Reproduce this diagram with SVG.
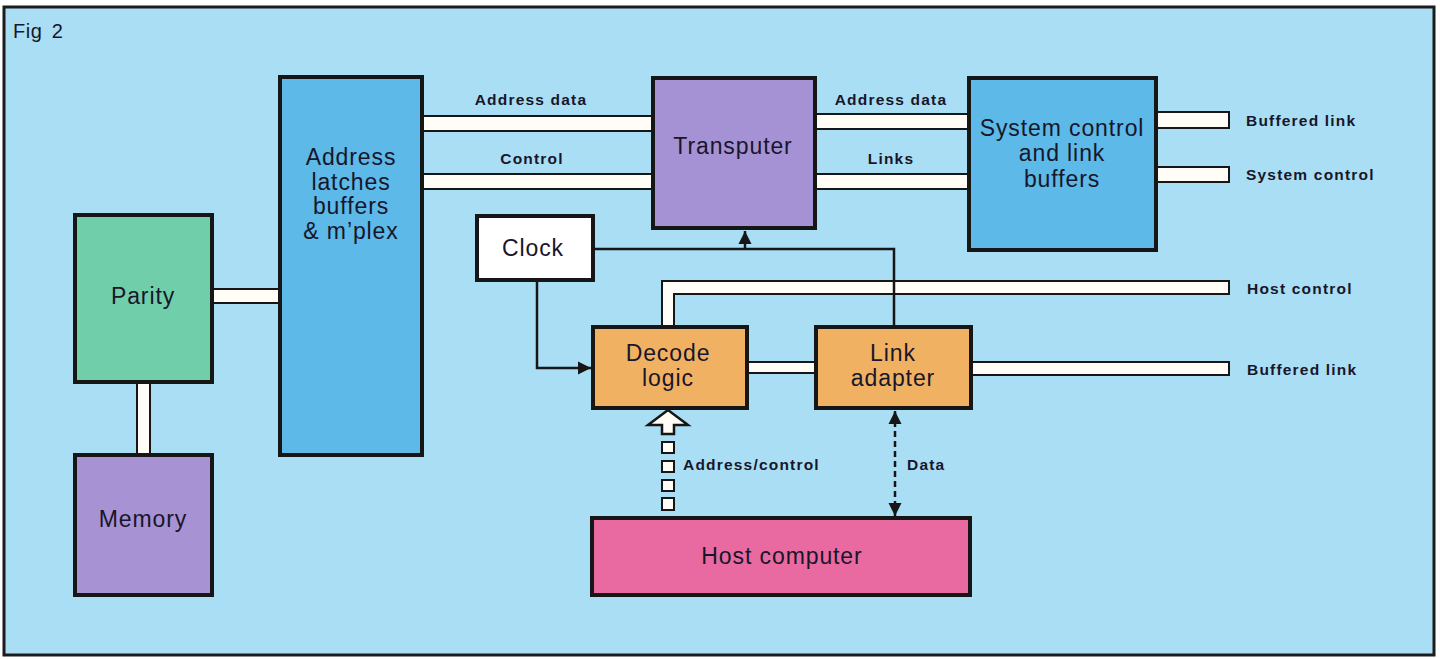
<svg xmlns="http://www.w3.org/2000/svg" width="1440" height="659" viewBox="0 0 1440 659">
  <style>
    .box { stroke: #161616; stroke-width: 4; }
    .bus { fill: #fffdf6; stroke: #161616; stroke-width: 2; }
    .wire { fill: none; stroke: #161616; stroke-width: 2.5; }
    .node-text { font-family: "Liberation Sans", Arial, sans-serif; font-size: 23px; letter-spacing: 0.9px; fill: #18162a; text-anchor: middle; }
    .bus-text { font-family: "Liberation Sans", Arial, sans-serif; font-size: 15.5px; font-weight: bold; letter-spacing: 1.2px; fill: #18162a; }
    .mid { text-anchor: middle; }
  </style>
  <defs>
    <marker id="arrow" viewBox="0 0 10 10" refX="10" refY="5" markerWidth="13" markerHeight="15" markerUnits="userSpaceOnUse" orient="auto-start-reverse">
      <path d="M0,0 L10,5 L0,10 Z" fill="#161616"/>
    </marker>
  </defs>

  <!-- frame -->
  <rect x="4" y="7" width="1430" height="648" fill="#a9def4" stroke="#1c1c1c" stroke-width="3"/>
  <text x="13" y="38" font-family="Liberation Sans, Arial, sans-serif" font-size="20" letter-spacing="0.6" word-spacing="3" fill="#18162a">Fig 2</text>

  <!-- connectors -->
  <g id="connectors">
    <!-- parity to address latches -->
    <rect class="bus" x="208" y="289" width="76" height="14"/>
    <!-- parity to memory -->
    <rect class="bus" x="137" y="378" width="13" height="79"/>
    <!-- address latches to transputer -->
    <rect class="bus" x="418" y="116" width="238" height="15"/>
    <rect class="bus" x="418" y="174" width="238" height="15"/>
    <!-- transputer to system control -->
    <rect class="bus" x="812" y="114" width="160" height="15"/>
    <rect class="bus" x="812" y="174" width="160" height="15"/>
    <!-- system control outputs -->
    <rect class="bus" x="1153" y="112" width="76" height="16"/>
    <rect class="bus" x="1153" y="167" width="76" height="15"/>
    <!-- host control -->
    <path class="bus" d="M662,329 V281 H1229 V294 H674 V329"/>
    <!-- decode to link adapter -->
    <rect class="bus" x="743" y="362" width="77" height="11"/>
    <!-- link adapter buffered link -->
    <rect class="bus" x="968" y="362" width="261" height="13"/>
    <!-- clock lines -->
    <path class="wire" d="M593,249 H894 V329"/>
    <line class="wire" x1="745" y1="249" x2="745" y2="231" marker-end="url(#arrow)"/>
    <path class="wire" d="M537,280 V368 H591" marker-end="url(#arrow)"/>
    <!-- address/control from host -->
    <polygon points="668,410 648,425 662,425 662,434 674,434 674,425 688,425" fill="#fffdf6" stroke="#161616" stroke-width="2.5" stroke-linejoin="miter"/>
    <rect class="bus" x="662" y="442" width="12" height="11"/>
    <rect class="bus" x="662" y="461" width="12" height="11"/>
    <rect class="bus" x="662" y="480" width="12" height="11"/>
    <rect class="bus" x="662" y="498" width="12" height="12"/>
    <!-- data from host -->
    <line class="wire" x1="895" y1="411" x2="895" y2="516" stroke-dasharray="6 4" marker-start="url(#arrow)" marker-end="url(#arrow)"/>
  </g>

  <!-- bus labels -->
  <g id="bus-labels">
    <text class="bus-text mid" x="531" y="105">Address data</text>
    <text class="bus-text mid" x="532" y="164">Control</text>
    <text class="bus-text mid" x="891" y="105">Address data</text>
    <text class="bus-text mid" x="891" y="164">Links</text>
    <text class="bus-text" x="1246" y="126">Buffered link</text>
    <text class="bus-text" x="1246" y="180">System control</text>
    <text class="bus-text" x="1247" y="294">Host control</text>
    <text class="bus-text" x="1247" y="375">Buffered link</text>
    <text class="bus-text" x="683" y="470" letter-spacing="0.6">Address/control</text>
    <text class="bus-text" x="907" y="470">Data</text>
  </g>

  <!-- nodes -->
  <g id="address-latches">
    <rect class="box" x="280" y="77" width="142" height="378" fill="#5cb9e8"/>
    <text class="node-text" x="351" y="165">Address</text>
    <text class="node-text" x="351" y="190">latches</text>
    <text class="node-text" x="351" y="214">buffers</text>
    <text class="node-text" x="351" y="239">&amp; m’plex</text>
  </g>
  <g id="parity">
    <rect class="box" x="75" y="215" width="137" height="167" fill="#70ceaa"/>
    <text class="node-text" x="143" y="304">Parity</text>
  </g>
  <g id="memory">
    <rect class="box" x="75" y="455" width="137" height="140" fill="#a792d3"/>
    <text class="node-text" x="143" y="527">Memory</text>
  </g>
  <g id="transputer">
    <rect class="box" x="653" y="78" width="162" height="150" fill="#a592d5"/>
    <text class="node-text" x="733" y="154">Transputer</text>
  </g>
  <g id="system-control">
    <rect class="box" x="969" y="78" width="187" height="172" fill="#5cb9e8"/>
    <text class="node-text" x="1062" y="136">System control</text>
    <text class="node-text" x="1062" y="161">and link</text>
    <text class="node-text" x="1062" y="187">buffers</text>
  </g>
  <g id="clock">
    <rect class="box" x="477" y="216" width="116" height="64" fill="#ffffff"/>
    <text class="node-text" x="533" y="256">Clock</text>
  </g>
  <g id="decode-logic">
    <rect class="box" x="593" y="327" width="154" height="81" fill="#f0b163"/>
    <text class="node-text" x="668" y="361">Decode</text>
    <text class="node-text" x="668" y="386">logic</text>
  </g>
  <g id="link-adapter">
    <rect class="box" x="816" y="327" width="155" height="81" fill="#f0b163"/>
    <text class="node-text" x="893" y="361">Link</text>
    <text class="node-text" x="893" y="386">adapter</text>
  </g>
  <g id="host-computer">
    <rect class="box" x="592" y="518" width="378" height="77" fill="#e96aa0"/>
    <text class="node-text" x="782" y="564">Host computer</text>
  </g>
</svg>
